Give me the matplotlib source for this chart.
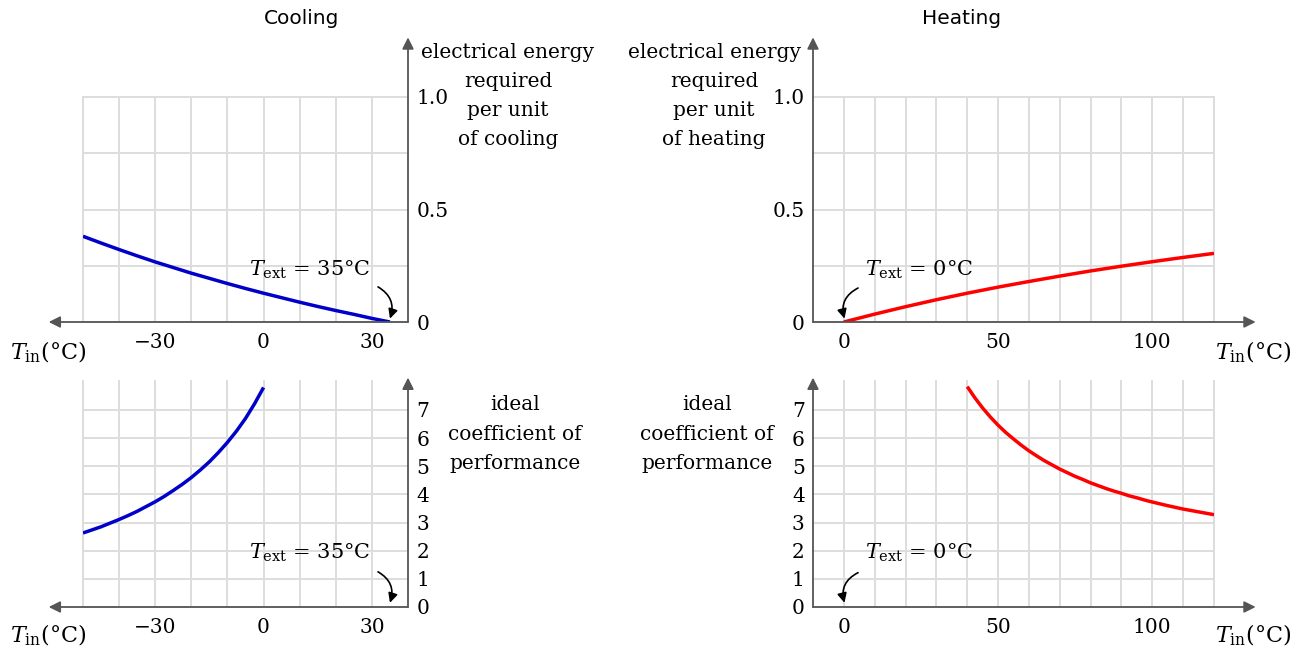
import matplotlib
matplotlib.use("Agg")
import matplotlib.pyplot as plt

# ---- data ----
cool_t = [-50, -45, -40, -35, -30, -25, -20, -15, -10, -5, 0, 5, 10, 15, 20, 25, 30, 35]
cool_energy = [0.381, 0.351, 0.322, 0.294, 0.267, 0.242, 0.217, 0.194, 0.171, 0.149,
               0.128, 0.108, 0.088, 0.069, 0.051, 0.034, 0.016, 0.0]
cool_cop_t = [-50, -47.5, -45, -42.5, -40, -37.5, -35, -32.5, -30, -27.5, -25, -22.5,
              -20, -17.5, -15, -12.5, -10, -7.5, -5, -2.5, 0]
cool_cop = [2.63, 2.74, 2.85, 2.98, 3.11, 3.25, 3.40, 3.57, 3.74, 3.93, 4.14, 4.36,
            4.60, 4.87, 5.16, 5.49, 5.85, 6.25, 6.70, 7.22, 7.80]

heat_t = [0, 10, 20, 30, 40, 50, 60, 70, 80, 90, 100, 110, 120]
heat_energy = [0.0, 0.035, 0.068, 0.099, 0.128, 0.155, 0.180, 0.204, 0.227, 0.248,
               0.268, 0.287, 0.305]
heat_cop_t = [40, 42.5, 45, 47.5, 50, 52.5, 55, 57.5, 60, 62.5, 65, 67.5, 70, 72.5,
              75, 77.5, 80, 82.5, 85, 87.5, 90, 92.5, 95, 97.5, 100, 105, 110, 115, 120]
heat_cop = [7.83, 7.43, 7.07, 6.75, 6.46, 6.20, 5.97, 5.75, 5.55, 5.37, 5.20, 5.05,
            4.90, 4.77, 4.64, 4.53, 4.41, 4.31, 4.21, 4.12, 4.04, 3.95, 3.88, 3.80,
            3.73, 3.60, 3.48, 3.38, 3.28]

cool_xticks = [-30, 0, 30]
heat_xticks = [0, 50, 100]
energy_yticks = [0, 0.5, 1.0]
energy_ylabels = ["0", "0.5", "1.0"]
cop_yticks = [0, 1, 2, 3, 4, 5, 6, 7]

cool_energy_label = ["electrical energy", "required", "per unit", "of cooling"]
heat_energy_label = ["electrical energy", "required", "per unit", "of heating"]
cop_label = ["ideal", "coefficient of", "performance"]

W, H = 1305, 649
GRID = "#dddddd"
AXC = "#555555"
plt.rcParams["font.family"] = ["DejaVu Serif"]
plt.rcParams["mathtext.fontset"] = "dejavuserif"

fig = plt.figure(figsize=(W / 100, H / 100), dpi=100)


def px_axes(x0, y0, x1, y1):
    # pixel box (top-left origin) -> figure fraction
    return [x0 / W, 1 - y1 / H, (x1 - x0) / W, (y1 - y0) / H]


def setup(ax, xlim, ylim, xmajor, xminor, ymajor, ylabels, yminor, yside):
    ax.set_xlim(xlim)
    ax.set_ylim(ylim)
    for s in ax.spines.values():
        s.set_visible(False)
    ax.set_xticks(xmajor)
    ax.set_xticklabels([str(v).replace("-", "\u2212") for v in xmajor])
    ax.set_xticks(xminor, minor=True)
    ax.set_yticks(ymajor)
    ax.set_yticklabels(ylabels)
    ax.set_yticks(yminor, minor=True)
    ax.grid(True, which="both", color=GRID, lw=1.4, clip_on=False)
    ax.set_axisbelow(True)
    ax.tick_params(which="both", length=0, labelsize=14.5)
    ax.tick_params(axis="x", pad=8)
    ax.tick_params(axis="y", pad=6)
    if yside == "right":
        ax.yaxis.tick_right()
    ax.set_facecolor("none")


def arrow(ax, start, end, **kw):
    props = dict(arrowstyle="-|>", color=AXC, lw=1.3, mutation_scale=17,
                 shrinkA=0, shrinkB=0)
    props.update(kw)
    ax.annotate("", xy=end, xytext=start, arrowprops=props, annotation_clip=False)


def note(ax, text_xy, ha, label, start, end, rad):
    ax.text(*text_xy, label, ha=ha, va="center", fontsize=15)
    ax.annotate("", xy=end, xytext=start, annotation_clip=False,
                arrowprops=dict(arrowstyle="-|>", color="black", lw=1.2,
                                mutation_scale=14, shrinkA=0, shrinkB=0,
                                connectionstyle=f"arc3,rad={rad}"))


def curve(ax, x, y, color):
    ax.plot(x, y, color=color, lw=2.5, solid_capstyle="butt",
            solid_joinstyle="round", zorder=3)


minor_cool = list(range(-50, 40, 10))
minor_heat = list(range(0, 130, 10))

# ---- cooling, energy ----
ax1 = fig.add_axes(px_axes(83, 97, 408, 322))
setup(ax1, (-50, 40), (0, 1), cool_xticks, minor_cool, energy_yticks, energy_ylabels,
      [0.25, 0.75], "right")
curve(ax1, cool_t, cool_energy, "#0000c8")
arrow(ax1, (40, 0), (-59.5, 0))
arrow(ax1, (40, 0), (40, 1.265))
note(ax1, (29.8, 0.232), "right", r"$T_{\mathrm{ext}}$ = 35°C", (31.7, 0.156), (35, 0.015), -0.4)

# ---- heating, energy ----
ax2 = fig.add_axes(px_axes(813, 97, 1214, 322))
setup(ax2, (-10, 120), (0, 1), heat_xticks, minor_heat, energy_yticks, energy_ylabels,
      [0.25, 0.75], "left")
curve(ax2, heat_t, heat_energy, "#ff0000")
arrow(ax2, (-10, 0), (133.5, 0))
arrow(ax2, (-10, 0), (-10, 1.265))
note(ax2, (6.8, 0.232), "left", r"$T_{\mathrm{ext}}$ = 0°C", (4.6, 0.151), (0.2, 0.015), 0.4)

# ---- cooling, COP ----
ax3 = fig.add_axes(px_axes(83, 381, 408, 607))
setup(ax3, (-50, 40), (0, 8.03), cool_xticks, minor_cool, cop_yticks,
      [str(v) for v in cop_yticks], [], "right")
curve(ax3, cool_cop_t, cool_cop, "#0000c8")
arrow(ax3, (40, 0), (-59.5, 0))
arrow(ax3, (40, 0), (40, 8.15))
note(ax3, (29.8, 1.93), "right", r"$T_{\mathrm{ext}}$ = 35°C", (31.7, 1.25), (35, 0.15), -0.4)

# ---- heating, COP ----
ax4 = fig.add_axes(px_axes(813, 381, 1214, 607))
setup(ax4, (-10, 120), (0, 8.03), heat_xticks, minor_heat, cop_yticks,
      [str(v) for v in cop_yticks], [], "left")
curve(ax4, heat_cop_t, heat_cop, "#ff0000")
arrow(ax4, (-10, 0), (133.5, 0))
arrow(ax4, (-10, 0), (-10, 8.15))
note(ax4, (6.8, 1.93), "left", r"$T_{\mathrm{ext}}$ = 0°C", (4.6, 1.22), (0.2, 0.15), 0.4)


# ---- titles and labels ----
def ftext(x, y, s, **kw):
    fig.text(x / W, 1 - y / H, s, **kw)


def stacked(x, y0, lines, pitch=29.3):
    # one text per line, so the short lines leave room for the tick labels
    for i, s in enumerate(lines):
        ftext(x, y0 + i * pitch, s, ha="center", va="center", fontsize=14.5)


ftext(302, 19, "Cooling", ha="center", va="center", fontsize=14.5, family="DejaVu Sans")
ftext(962, 19, "Heating", ha="center", va="center", fontsize=14.5, family="DejaVu Sans")

stacked(508, 52, cool_energy_label)
stacked(714, 52, heat_energy_label)
stacked(515, 405, cop_label)
stacked(707, 405, cop_label)

tin = r"$T_{\mathrm{in}}$(°C)"
ftext(10, 352, tin, ha="left", va="center", fontsize=16)
ftext(1215, 352, tin, ha="left", va="center", fontsize=16)
ftext(10, 635, tin, ha="left", va="center", fontsize=16)
ftext(1215, 635, tin, ha="left", va="center", fontsize=16)

fig.savefig("out.png", dpi=100, facecolor="white")
